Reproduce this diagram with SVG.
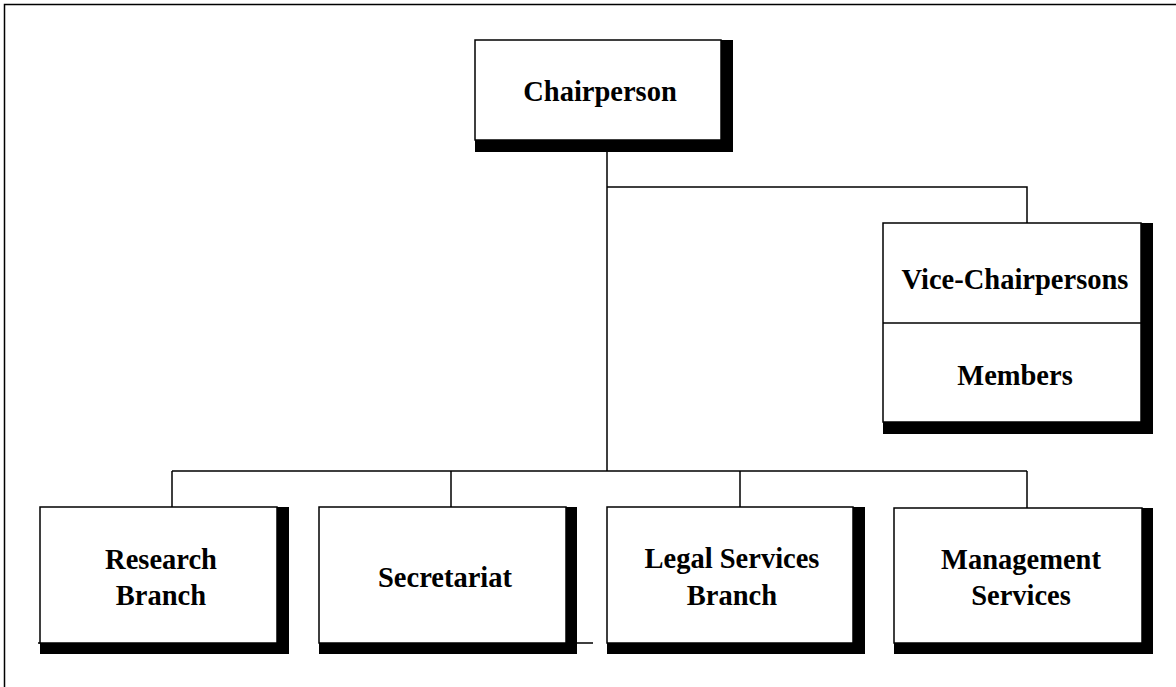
<svg xmlns="http://www.w3.org/2000/svg" width="1176" height="687" viewBox="0 0 1176 687">
<style>
.sh{fill:#000}
.bx{fill:#fff;stroke:#000;stroke-width:1.5}
.ln{stroke:#000;stroke-width:1.5;fill:none}
.t{font-family:"Liberation Serif","Times New Roman",serif;font-weight:bold;font-size:28.5px;fill:#000;text-anchor:middle}
</style>
<rect width="1176" height="687" fill="#fff"/>
<path class="ln" d="M4.5,687 V4.5 H1176"/>
<g id="connectors">
<path class="ln" d="M607,152 V471 M607,187 H1027 V223 M172,471 H1027 M172,471 V507 M451,471 V507 M740,471 V507 M1027,471 V508"/>
<path class="ln" d="M38,643 H41 M566,643 H593"/>
</g>
<g id="chairperson">
<rect class="sh" x="475" y="40" width="258" height="112"/>
<rect class="bx" x="475" y="40" width="246" height="100"/>
<text class="t" x="600" y="101">Chairperson</text>
</g>
<g id="vice-chairpersons">
<rect class="sh" x="883" y="223" width="270" height="211"/>
<rect class="bx" x="883" y="223" width="258" height="199"/>
<line class="ln" x1="883" y1="323" x2="1141" y2="323"/>
<text class="t" x="1015" y="289">Vice-Chairpersons</text>
<text class="t" x="1015" y="385">Members</text>
</g>
<g id="research">
<rect class="sh" x="40" y="507" width="249" height="147"/>
<rect class="bx" x="40" y="507" width="237" height="136"/>
<text class="t" x="161" y="569">Research</text>
<text class="t" x="161" y="605">Branch</text>
</g>
<g id="secretariat">
<rect class="sh" x="319" y="507" width="258" height="147"/>
<rect class="bx" x="319" y="507" width="247" height="136"/>
<text class="t" x="445" y="587">Secretariat</text>
</g>
<g id="legal">
<rect class="sh" x="607" y="507" width="258" height="147"/>
<rect class="bx" x="607" y="507" width="246" height="136"/>
<text class="t" x="732" y="568">Legal Services</text>
<text class="t" x="732" y="605">Branch</text>
</g>
<g id="management">
<rect class="sh" x="894" y="508" width="259" height="146"/>
<rect class="bx" x="894" y="508" width="248" height="135"/>
<text class="t" x="1021" y="569">Management</text>
<text class="t" x="1021" y="605">Services</text>
</g>
</svg>
